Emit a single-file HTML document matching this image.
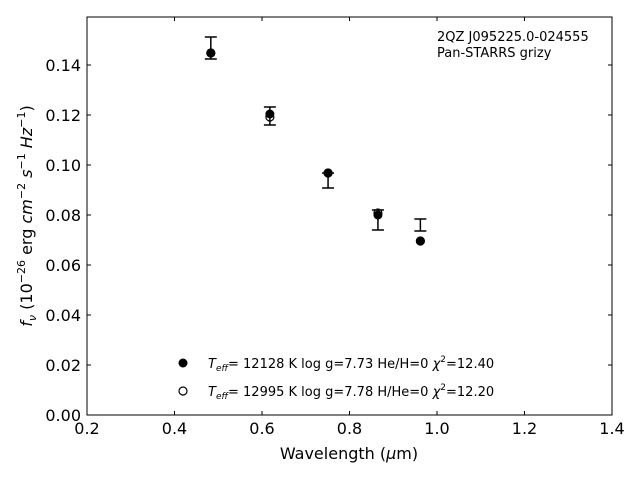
<!DOCTYPE html>
<html><head><meta charset="utf-8"><style>
body{margin:0;background:#fff;}
svg text{font-family:"DejaVu Sans","Liberation Sans",sans-serif;fill:#000;}
</style></head><body>
<svg id="chart" width="640" height="480" xmlns="http://www.w3.org/2000/svg">
<rect x="87" y="17" width="525" height="398" fill="none" stroke="#000" stroke-width="1"/>
<g id="axes"></g>
<g id="marks"></g>
<text x="437" y="41" font-size="13">2QZ J095225.0-024555</text>
<text x="437" y="57" font-size="13">Pan-STARRS grizy</text>
<text x="349" y="459" font-size="16" text-anchor="middle">Wavelength (<tspan font-style="italic">μ</tspan>m)</text>
<text transform="translate(32,216) rotate(-90)" font-size="16" text-anchor="middle"><tspan font-style="italic">f</tspan><tspan font-style="italic" font-size="11" dy="4">ν</tspan><tspan dy="-4"> (10</tspan><tspan font-size="11" dy="-7">−26</tspan><tspan dy="7"> erg </tspan><tspan font-style="italic">cm</tspan><tspan font-size="11" dy="-7">−2</tspan><tspan dy="7" font-style="italic"> s</tspan><tspan font-size="11" dy="-7">−1</tspan><tspan dy="7" font-style="italic"> Hz</tspan><tspan font-size="11" dy="-7">−1</tspan><tspan dy="7">)</tspan></text>
<g>
<circle cx="183" cy="363" r="4.5" fill="#000"/>
<text x="208" y="368" font-size="13"><tspan font-style="italic">T</tspan><tspan font-style="italic" font-size="9" dy="3">eff</tspan><tspan dy="-3">= 12128 K  log g=7.73  He/H=0  </tspan><tspan font-style="italic">χ</tspan><tspan font-size="9" dy="-6">2</tspan><tspan dy="6">=12.40</tspan></text>
<circle cx="183" cy="391" r="4" fill="#fff" stroke="#000" stroke-width="1.2"/>
<text x="208" y="396" font-size="13"><tspan font-style="italic">T</tspan><tspan font-style="italic" font-size="9" dy="3">eff</tspan><tspan dy="-3">= 12995 K  log g=7.78  H/He=0  </tspan><tspan font-style="italic">χ</tspan><tspan font-size="9" dy="-6">2</tspan><tspan dy="6">=12.20</tspan></text>
</g>
</svg>
<script>
const wavelengths=[0.483,0.618,0.751,0.865,0.962];
const obsFlux=[0.1468,0.1196,0.0938,0.0780,0.0760];
const obsErr=[0.0044,0.0036,0.0030,0.0040,0.0024];
const model1Flux=[0.1448,0.1204,0.0968,0.0800,0.0696];
const model2Flux=[0.1448,0.1192,0.0968,0.0808,0.0696];
const xTicks=[0.2,0.4,0.6,0.8,1.0,1.2,1.4];
const yTicks=[0,0.02,0.04,0.06,0.08,0.10,0.12,0.14];
const X=v=>87+(v-0.2)*437.5;
const Y=v=>415-v*2500;
const NS="http://www.w3.org/2000/svg";
function mk(tag,attrs,parent){const e=document.createElementNS(NS,tag);for(const k in attrs)e.setAttribute(k,attrs[k]);parent.appendChild(e);return e;}
const axes=document.getElementById('axes'),marks=document.getElementById('marks');
xTicks.forEach(t=>{const x=X(t);
 let l=mk('line',{x1:x,x2:x,y1:415,y2:411,stroke:'#000'},axes);
 
 
 let l2=mk('line',{x1:x,x2:x,y1:17,y2:21,stroke:'#000'},axes);
 
 
 let tx=mk('text',{x:x,y:434,'font-size':16,'text-anchor':'middle'},axes);tx.textContent=t.toFixed(1);
 
 
});
yTicks.forEach(t=>{const y=Y(t);
 let l=mk('line',{x1:87,x2:91,y1:y,y2:y,stroke:'#000'},axes);
 
 
 let l2=mk('line',{x1:608,x2:612,y1:y,y2:y,stroke:'#000'},axes);
 
 
 let tx=mk('text',{x:81,y:y+6,'font-size':16,'text-anchor':'end'},axes);tx.textContent=t.toFixed(2);
 
 
});
wavelengths.forEach((w,i)=>{const x=X(w);
 const c1=mk('circle',{cx:x,cy:Y(model1Flux[i]),r:4.5,fill:'#000'},marks);
 
 
 const c2=mk('circle',{cx:x,cy:Y(model2Flux[i]),r:4,fill:'none',stroke:'#000','stroke-width':1.2},marks);
 
 
 const g=mk('g',{stroke:'#000','stroke-width':1.5},marks);
 
 
 const t=Y(obsFlux[i]+obsErr[i]),b=Y(obsFlux[i]-obsErr[i]);
 mk('line',{x1:x,x2:x,y1:t,y2:b},g);
 mk('line',{x1:x-6,x2:x+6,y1:t,y2:t},g);
 mk('line',{x1:x-6,x2:x+6,y1:b,y2:b},g);
});
</script>
</body></html>
